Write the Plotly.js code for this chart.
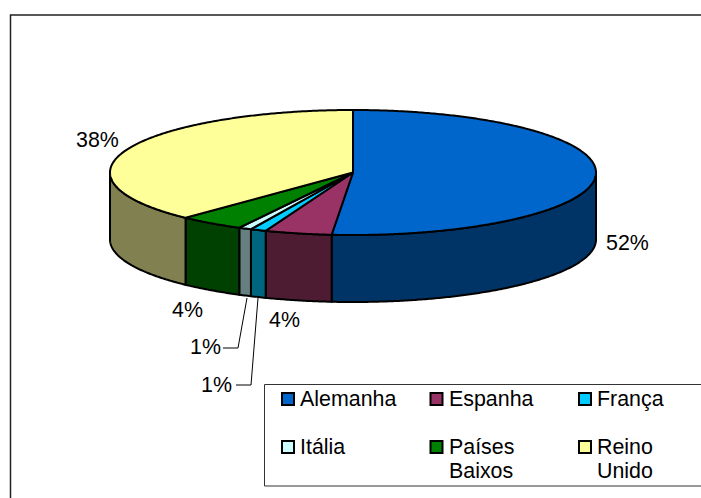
<!DOCTYPE html>
<html><head><meta charset="utf-8">
<script src="https://cdn.plot.ly/plotly-3.0.1.min.js"></script>
<style>html,body{margin:0;padding:0;background:#fff;overflow:hidden}</style>
</head><body><div id="chart" style="width:701px;height:498px"></div>
<script>
const categories = ["Alemanha","Espanha","França","Itália","Países<br>Baixos","Reino<br>Unido"];
const values = [51.4,4.45,1.05,0.85,4.35,37.9];
const percentLabels = ["52%","4%","1%","1%","4%","38%"];
const topColors = ["#0066CC","#993366","#00CCFF","#CCFFFF","#008000","#FFFF99"];
const sideColors = ["#003366","#4D1C33","#006680","#668080","#004000","#808050"];

const FONT = "Liberation Sans, Arial, sans-serif", FS = 21.4;
const cx = 353, cy = 172.5, rx = 243, ry = 62.5, depth = 67;
const total = values.reduce((a,b)=>a+b,0);
const px = a => cx + rx*Math.sin(a*Math.PI/180);
const py = a => cy - ry*Math.cos(a*Math.PI/180);
function arc(a0,a1){const n=Math.max(2,Math.ceil(Math.abs(a1-a0)*2));const o=[];for(let i=0;i<=n;i++)o.push(a0+(a1-a0)*i/n);return o;}

const traces = [];
let start = 0;
const spans = values.map(v=>{const s=[start,start+v/total*360];start=s[1];return s;});

// side walls (front half only)
spans.forEach((s,i)=>{
  const a0=Math.max(s[0],90), a1=Math.min(s[1],270);
  if(a1<=a0) return;
  const A=arc(a0,a1);
  const x=A.map(px).concat(A.slice().reverse().map(px));
  const y=A.map(py).concat(A.slice().reverse().map(a=>py(a)+depth));
  x.push(x[0]); y.push(y[0]);
  traces.push({type:"scatter",mode:"lines",x,y,fill:"toself",fillcolor:sideColors[i],
    line:{color:"#000",width:2,simplify:false},hoverinfo:"skip",showlegend:false});
});
// top surface
spans.forEach((s,i)=>{
  const A=arc(s[0],s[1]);
  const x=[cx].concat(A.map(px),[cx]);
  const y=[cy].concat(A.map(py),[cy]);
  traces.push({type:"scatter",mode:"lines",x,y,fill:"toself",fillcolor:topColors[i],name:categories[i],
    line:{color:"#000",width:2,simplify:false},hoverinfo:"skip",showlegend:false});
});
// leader lines
const leaders=[[[247,238,223],[298,348,348]],[[258,251,236],[298,385,385]]];
leaders.forEach(l=>traces.push({type:"scatter",mode:"lines",x:l[0],y:l[1],line:{color:"#000",width:1},hoverinfo:"skip",showlegend:false}));

// legend swatches
const legCols=[288,436.5,585], legRows=[399,447];
const legX=categories.map((c,i)=>legCols[i%3]), legY=categories.map((c,i)=>legRows[Math.floor(i/3)]);
traces.push({type:"scatter",mode:"markers",x:legX,y:legY,hoverinfo:"skip",showlegend:false,
  marker:{symbol:"square",size:12,color:topColors,line:{color:"#000",width:2}}});

const labelPos=[[627,242.6],[284,319.6],[216,384.6],[205,346.6],[187,309.6],[97,139.6]];
const annotations=values.map((v,i)=>({x:labelPos[i][0],y:labelPos[i][1],xref:"x",yref:"y",showarrow:false,
  text:percentLabels[i],xanchor:"center",yanchor:"middle",font:{family:FONT,size:FS,color:"#000"}}));
categories.forEach((c,i)=>{
  c.split("<br>").forEach((t,k)=>annotations.push({x:legX[i]+12,y:legY[i]-0.4+k*24,xref:"x",yref:"y",showarrow:false,
    text:t,xanchor:"left",yanchor:"middle",xshift:-2,font:{family:FONT,size:FS,color:"#000"}}));
});

const layout={width:701,height:498,margin:{l:0,r:0,t:0,b:0},paper_bgcolor:"#fff",plot_bgcolor:"#fff",showlegend:false,
  xaxis:{range:[0,701],visible:false,fixedrange:true},
  yaxis:{range:[498,0],visible:false,fixedrange:true},
  annotations,
  shapes:[
    {type:"rect",xref:"x",yref:"y",x0:10.5,y0:15,x1:730,y1:530,line:{color:"#222",width:1.5},layer:"below"},
    {type:"rect",xref:"x",yref:"y",x0:264.5,y0:384.5,x1:730,y1:486,line:{color:"#333",width:1},layer:"below"}
  ]};
Plotly.newPlot("chart",traces,layout,{displayModeBar:false,staticPlot:true});
</script></body></html>
